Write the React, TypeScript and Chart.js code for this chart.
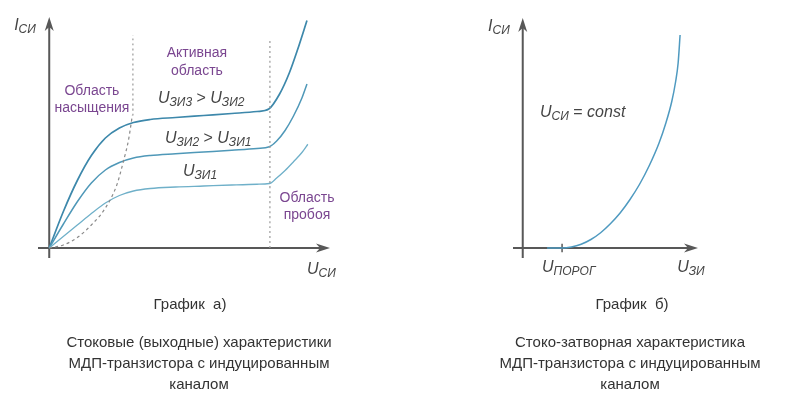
import { useEffect, useRef } from 'react';
import { Chart, registerables } from 'chart.js';

Chart.register(...registerables);

// ---------- Left chart: output characteristics I_СИ(U_СИ) ----------
const outXRange = [-0.4, 10];
const outYRange = [-0.4, 9.24];

const uzi3X = [0, 0.5, 1.0, 1.5, 2.0, 2.5, 3.0, 3.6, 4.5, 5.5, 6.5, 7.4, 7.82, 8.2, 8.55, 8.85, 9.18];
const uzi3Y = [0, 1.45, 2.7, 3.7, 4.4, 4.8, 5.02, 5.14, 5.22, 5.3, 5.38, 5.46, 5.56, 6.15, 7.0, 7.95, 9.1];

const uzi2X = [0, 0.5, 1.0, 1.5, 2.0, 2.5, 3.0, 3.6, 4.5, 5.5, 6.5, 7.4, 7.84, 8.1, 8.4, 8.7, 9.0, 9.18];
const uzi2Y = [0, 0.95, 1.85, 2.6, 3.12, 3.42, 3.6, 3.7, 3.77, 3.84, 3.91, 3.98, 4.05, 4.28, 4.7, 5.28, 6.0, 6.56];

const uzi1X = [0, 0.5, 1.0, 1.5, 2.0, 2.5, 3.0, 3.6, 4.5, 5.5, 6.5, 7.4, 7.84, 8.1, 8.4, 8.7, 9.0, 9.21];
const uzi1Y = [0, 0.46, 0.92, 1.38, 1.8, 2.1, 2.28, 2.38, 2.44, 2.48, 2.52, 2.55, 2.58, 2.8, 3.1, 3.45, 3.82, 4.15];

const satBoundX = [0, 0.5, 1.0, 1.5, 2.0, 2.4, 2.65, 2.82, 2.96];
const satBoundY = [0, 0.12, 0.42, 0.92, 1.6, 2.5, 3.5, 4.3, 5.3];

const satLineX = [2.98, 2.98];
const satLineY = [5.3, 8.52];

const breakLineX = [7.86, 7.86];
const breakLineY = [0, 8.32];

// ---------- Right chart: transfer characteristic I_СИ(U_ЗИ) ----------
const trXRange = [-0.5, 9];
const trYRange = [-0.4, 9.2];

const transferX = [1.25, 2.0, 2.5, 3.0, 3.5, 4.0, 4.5, 5.0, 5.5, 6.0, 6.5, 7.0, 7.35, 7.65, 7.85, 7.98, 8.08];
const transferY = [0, 0, 0.04, 0.15, 0.34, 0.61, 0.97, 1.4, 1.93, 2.55, 3.3, 4.2, 5.0, 5.85, 6.65, 7.4, 8.52];

const thresholdX = 2.02;

// ---------- Texts ----------
const captionLeftTitle = 'График  а)';
const captionLeftLines = ['Стоковые (выходные) характеристики', 'МДП-транзистора с индуцированным', 'каналом'];
const captionRightTitle = 'График  б)';
const captionRightLines = ['Стоко-затворная характеристика', 'МДП-транзистора с индуцированным', 'каналом'];

const FONT = '"Liberation Sans", Arial, Helvetica, sans-serif';
const AXIS_COLOR = '#585858';
const TEXT_COLOR = '#454545';
const PURPLE = '#7a4690';

type Seg = { t: string; sub?: boolean; upright?: boolean };

function drawRich(ctx: CanvasRenderingContext2D, segs: Seg[], x: number, y: number, size: number, align: 'left' | 'center' = 'left') {
  const subSize = Math.round(size * 0.76);
  const fontOf = (s: Seg) => `${s.upright ? '' : 'italic '}${s.sub ? subSize : size}px ${FONT}`;
  let total = 0;
  const widths = segs.map((s) => {
    ctx.font = fontOf(s);
    const w = ctx.measureText(s.t).width;
    total += w;
    return w;
  });
  let cx = align === 'center' ? x - total / 2 : x;
  ctx.fillStyle = TEXT_COLOR;
  ctx.textAlign = 'left';
  ctx.textBaseline = 'alphabetic';
  segs.forEach((s, i) => {
    ctx.font = fontOf(s);
    ctx.fillText(s.t, cx, s.sub ? y + 3 : y);
    cx += widths[i];
  });
}

function arrow(ctx: CanvasRenderingContext2D, x: number, y: number, dir: 'up' | 'right') {
  ctx.save();
  ctx.translate(x, y);
  if (dir === 'up') ctx.rotate(-Math.PI / 2);
  ctx.beginPath();
  ctx.moveTo(0, 0);
  ctx.lineTo(-14, -4.5);
  ctx.lineTo(-10, 0);
  ctx.lineTo(-14, 4.5);
  ctx.closePath();
  ctx.fillStyle = AXIS_COLOR;
  ctx.fill();
  ctx.restore();
}

function drawAxes(chart: any) {
  const { ctx } = chart;
  const xs = chart.scales.x;
  const ys = chart.scales.y;
  const x0 = xs.getPixelForValue(0);
  const y0 = ys.getPixelForValue(0);
  const xl = xs.getPixelForValue(xs.min);
  const xr = xs.getPixelForValue(xs.max);
  const yb = ys.getPixelForValue(ys.min);
  const yt = ys.getPixelForValue(ys.max);
  ctx.save();
  ctx.strokeStyle = AXIS_COLOR;
  ctx.lineWidth = 2;
  ctx.beginPath();
  ctx.moveTo(xl, y0);
  ctx.lineTo(xr - 10, y0);
  ctx.moveTo(x0, yb);
  ctx.lineTo(x0, yt + 10);
  ctx.stroke();
  arrow(ctx, xr, y0, 'right');
  arrow(ctx, x0, yt, 'up');
  ctx.restore();
}

function drawCaption(ctx: CanvasRenderingContext2D, title: string, lines: string[], titleX: number, linesX: number) {
  ctx.save();
  ctx.fillStyle = '#333333';
  ctx.textAlign = 'center';
  ctx.textBaseline = 'alphabetic';
  ctx.font = `15px ${FONT}`;
  ctx.fillText(title, titleX, 309);
  lines.forEach((l, i) => ctx.fillText(l, linesX, 347 + i * 21));
  ctx.restore();
}

function purple(ctx: CanvasRenderingContext2D, text: string, x: number, y: number) {
  ctx.save();
  ctx.fillStyle = PURPLE;
  ctx.font = `14px ${FONT}`;
  ctx.textAlign = 'center';
  ctx.textBaseline = 'alphabetic';
  ctx.fillText(text, x, y);
  ctx.restore();
}

const leftPlugin = {
  id: 'leftDecor',
  beforeDatasetsDraw(chart: any) {
    drawAxes(chart);
  },
  afterDatasetsDraw(chart: any) {
    const { ctx } = chart;
    const px = (v: number) => chart.scales.x.getPixelForValue(v);
    const py = (v: number) => chart.scales.y.getPixelForValue(v);
    drawRich(ctx, [{ t: 'I' }, { t: 'СИ', sub: true }], px(-1.25), py(8.72), 16);
    drawRich(ctx, [{ t: 'U' }, { t: 'СИ', sub: true }], px(9.18), py(-1.04), 16);
    purple(ctx, 'Активная', px(5.26), py(7.64));
    purple(ctx, 'область', px(5.26), py(6.92));
    purple(ctx, 'Область', px(1.52), py(6.12));
    purple(ctx, 'насыщения', px(1.52), py(5.44));
    purple(ctx, 'Область', px(9.18), py(1.84));
    purple(ctx, 'пробоя', px(9.18), py(1.16));
    drawRich(ctx, [{ t: 'U' }, { t: 'ЗИ3', sub: true }, { t: ' > ', upright: true }, { t: 'U' }, { t: 'ЗИ2', sub: true }], px(3.87), py(5.8), 16);
    drawRich(ctx, [{ t: 'U' }, { t: 'ЗИ2', sub: true }, { t: ' > ', upright: true }, { t: 'U' }, { t: 'ЗИ1', sub: true }], px(4.12), py(4.2), 16);
    drawRich(ctx, [{ t: 'U' }, { t: 'ЗИ1', sub: true }], px(4.76), py(2.88), 16);
    drawCaption(ctx, captionLeftTitle, captionLeftLines, 190, 199);
  },
};

const rightPlugin = {
  id: 'rightDecor',
  beforeDatasetsDraw(chart: any) {
    drawAxes(chart);
    const { ctx } = chart;
    const x = chart.scales.x.getPixelForValue(thresholdX);
    ctx.save();
    ctx.strokeStyle = AXIS_COLOR;
    ctx.lineWidth = 1.5;
    ctx.beginPath();
    ctx.moveTo(x, chart.scales.y.getPixelForValue(0.17));
    ctx.lineTo(x, chart.scales.y.getPixelForValue(-0.17));
    ctx.stroke();
    ctx.restore();
  },
  afterDatasetsDraw(chart: any) {
    const { ctx } = chart;
    const px = (v: number) => chart.scales.x.getPixelForValue(v);
    const py = (v: number) => chart.scales.y.getPixelForValue(v);
    drawRich(ctx, [{ t: 'I' }, { t: 'СИ', sub: true }], px(-1.78), py(8.68), 16);
    drawRich(ctx, [{ t: 'U' }, { t: 'СИ', sub: true }, { t: ' = ', upright: true }, { t: 'const' }], px(0.89), py(5.24), 16);
    drawRich(ctx, [{ t: 'U' }, { t: 'ПОРОГ', sub: true }], px(0.99), py(-0.96), 16);
    drawRich(ctx, [{ t: 'U' }, { t: 'ЗИ', sub: true }], px(7.93), py(-0.96), 16);
    drawCaption(ctx, captionRightTitle, captionRightLines, 232, 230);
  },
};

const curve = (xs: number[], ys: number[], color: string, width: number, dash: number[] = []) => ({
  data: xs.map((x, i) => ({ x, y: ys[i] })),
  borderColor: color,
  borderWidth: width,
  borderDash: dash,
  pointRadius: 0,
  fill: false,
  cubicInterpolationMode: 'monotone' as const,
  clip: false as const,
});

function baseOptions(xr: number[], yr: number[], padding: any) {
  return {
    responsive: false,
    maintainAspectRatio: false,
    animation: false as const,
    events: [] as any[],
    layout: { padding },
    plugins: { legend: { display: false }, tooltip: { enabled: false }, title: { display: false } },
    scales: {
      x: { type: 'linear' as const, min: xr[0], max: xr[1], display: false },
      y: { type: 'linear' as const, min: yr[0], max: yr[1], display: false },
    },
  };
}

function Panel({ build, left }: { build: (c: HTMLCanvasElement) => Chart; left: number }) {
  const ref = useRef<HTMLCanvasElement | null>(null);
  useEffect(() => {
    if (!ref.current) return;
    const chart = build(ref.current);
    return () => chart.destroy();
  }, [build]);
  return (
    <canvas
      ref={ref}
      width={400}
      height={408}
      style={{ position: 'absolute', left, top: 0, width: 400, height: 408 }}
    />
  );
}

const buildLeft = (c: HTMLCanvasElement) =>
  new Chart(c, {
    type: 'line',
    data: {
      datasets: [
        curve(satBoundX, satBoundY, '#8a8a8a', 1.2, [3, 3]),
        curve(satLineX, satLineY, '#9a9a9a', 1.2, [2, 3]),
        curve(breakLineX, breakLineY, '#9a9a9a', 1.2, [2, 3]),
        curve(uzi1X, uzi1Y, '#6fb0c9', 1.3),
        curve(uzi2X, uzi2Y, '#4f98b8', 1.5),
        curve(uzi3X, uzi3Y, '#3d88ab', 1.7),
      ] as any,
    },
    options: baseOptions(outXRange, outYRange, { left: 38, right: 70, top: 17, bottom: 150 }) as any,
    plugins: [leftPlugin],
  });

const buildRight = (c: HTMLCanvasElement) =>
  new Chart(c, {
    type: 'line',
    data: {
      datasets: [curve(transferX, transferY, '#4f9ac0', 1.5)] as any,
    },
    options: baseOptions(trXRange, trYRange, { left: 113, right: 102, top: 18, bottom: 150 }) as any,
    plugins: [rightPlugin],
  });

export default function App() {
  return (
    <div style={{ position: 'absolute', left: 0, top: 0, width: 800, height: 408, background: '#ffffff' }}>
      <Panel build={buildLeft} left={0} />
      <Panel build={buildRight} left={400} />
    </div>
  );
}
